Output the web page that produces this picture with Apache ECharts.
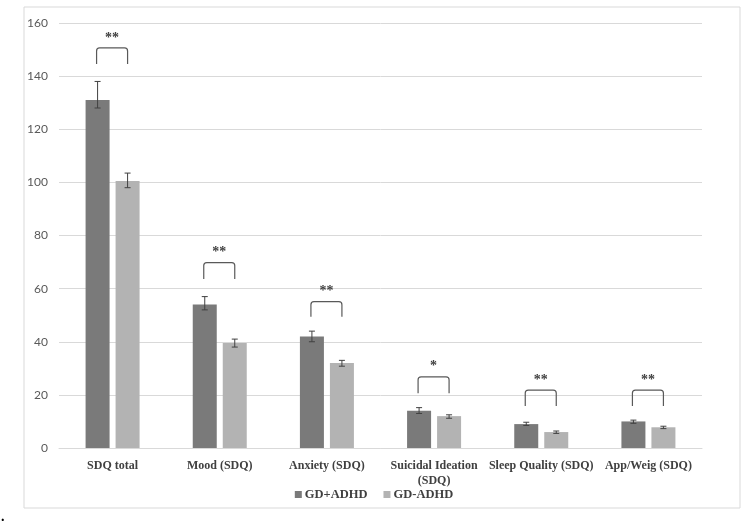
<!DOCTYPE html>
<html>
<head>
<meta charset="utf-8">
<script src="https://cdn.jsdelivr.net/npm/echarts@6/dist/echarts.min.js"></script>
<style>
  html, body { margin: 0; padding: 0; background: #fff; }
  #chart { width: 748px; height: 523px; }
</style>
</head>
<body>
<div id="chart"></div>
<script>
// data
const categories = ["SDQ total", "Mood (SDQ)", "Anxiety (SDQ)", "Suicidal Ideation\n(SDQ)", "Sleep Quality (SDQ)", "App/Weig (SDQ)"];
const withAdhd = [131, 54, 42, 14, 9, 10];
const withoutAdhd = [100.5, 39.5, 32, 12, 6, 7.8];
// error bars: [low, high]
const withAdhdErr = [[128, 138], [52, 57], [40, 44], [13, 15.2], [8.5, 9.7], [9.3, 10.5]];
const withoutAdhdErr = [[98, 103.5], [38, 41], [30.8, 33], [11.2, 12.5], [5.5, 6.4], [7.3, 8.2]];
// significance brackets: [top, leg bottom, label]
const brackets = [[150.6, 144.6, "**"], [69.8, 63.6, "**"], [55.1, 49.4, "**"], [26.8, 20.6, "*"], [21.8, 15.8, "**"], [21.8, 15.8, "**"]];
const yTicks = { min: 0, max: 160, interval: 20 };

const chart = echarts.init(document.getElementById("chart"));

// 誤差線 custom series
function errSeries(errs, offset) {
  return {
    type: "custom",
    silent: true,
    z: 5,
    renderItem: function (params, api) {
      const lo = api.coord([api.value(0), api.value(1)]);
      const hi = api.coord([api.value(0), api.value(2)]);
      const x = lo[0] + offset;
      const st = { stroke: "#404040", lineWidth: 1 };
      return {
        type: "group",
        children: [
          { type: "line", shape: { x1: x, y1: lo[1], x2: x, y2: hi[1] }, style: st },
          { type: "line", shape: { x1: x - 3, y1: lo[1], x2: x + 3, y2: lo[1] }, style: st },
          { type: "line", shape: { x1: x - 3, y1: hi[1], x2: x + 3, y2: hi[1] }, style: st }
        ]
      };
    },
    data: errs.map((e, i) => [i, e[0], e[1]])
  };
}

chart.setOption({
  animation: false,
  grid: { left: 59, right: 46, top: 23, bottom: 75 },
  graphic: [
    { type: "rect", shape: { x: 24, y: 7, width: 716, height: 501 }, style: { fill: "none", stroke: "#d9d9d9", lineWidth: 1 } },
    { type: "text", left: 1, top: 510, style: { text: ".", fill: "#000", font: "bold 14px 'Liberation Serif'" } }
  ],
  legend: {
    bottom: 17,
    left: "center",
    itemWidth: 7,
    itemHeight: 7,
    itemGap: 16,
    icon: "rect",
    textStyle: { fontFamily: "Liberation Serif", fontWeight: "bold", fontSize: 12.5, color: "#404040", padding: [0, 0, 0, -2] },
    data: ["GD+ADHD", "GD-ADHD"]
  },
  xAxis: {
    type: "category",
    data: categories,
    axisLine: { lineStyle: { color: "#d9d9d9" } },
    axisTick: { show: false },
    axisLabel: { fontFamily: "Liberation Serif", fontWeight: "bold", fontSize: 12, color: "#404040", margin: 10, interval: 0, lineHeight: 15 }
  },
  yAxis: {
    type: "value",
    min: yTicks.min,
    max: yTicks.max,
    interval: yTicks.interval,
    axisLine: { show: false },
    axisTick: { show: false },
    splitLine: { lineStyle: { color: "#d9d9d9" } },
    axisLabel: { fontFamily: "Lato", fontSize: 12, color: "#595959", margin: 11 }
  },
  series: [
    { name: "GD+ADHD", type: "bar", data: withAdhd, barWidth: 24, barGap: "25%", itemStyle: { color: "#7a7a7a" } },
    { name: "GD-ADHD", type: "bar", data: withoutAdhd, barWidth: 24, itemStyle: { color: "#b3b3b3" } },
    errSeries(withAdhdErr, -15),
    errSeries(withoutAdhdErr, 15),
    {
      type: "custom",
      silent: true,
      renderItem: function (params, api) {
        const top = api.coord([api.value(0), api.value(1)]);
        const bot = api.coord([api.value(0), api.value(2)]);
        const x1 = top[0] - 16, x2 = top[0] + 15;
        const r = 3;
        return {
          type: "group",
          children: [
            {
              type: "path",
              shape: {
                pathData: "M" + x1 + " " + bot[1] + " L" + x1 + " " + (top[1] + r) +
                  " Q" + x1 + " " + top[1] + " " + (x1 + r) + " " + top[1] +
                  " L" + (x2 - r) + " " + top[1] +
                  " Q" + x2 + " " + top[1] + " " + x2 + " " + (top[1] + r) +
                  " L" + x2 + " " + bot[1]
              },
              style: { fill: "none", stroke: "#595959", lineWidth: 1.2 }
            },
            {
              type: "text",
              style: {
                text: brackets[params.dataIndex][2],
                x: (x1 + x2) / 2, y: top[1] - 3,
                textAlign: "center", textVerticalAlign: "bottom",
                fill: "#404040", font: "bold 14px 'Liberation Serif'"
              }
            }
          ]
        };
      },
      data: brackets.map((b, i) => [i, b[0], b[1]])
    }
  ]
});
</script>
</body>
</html>
